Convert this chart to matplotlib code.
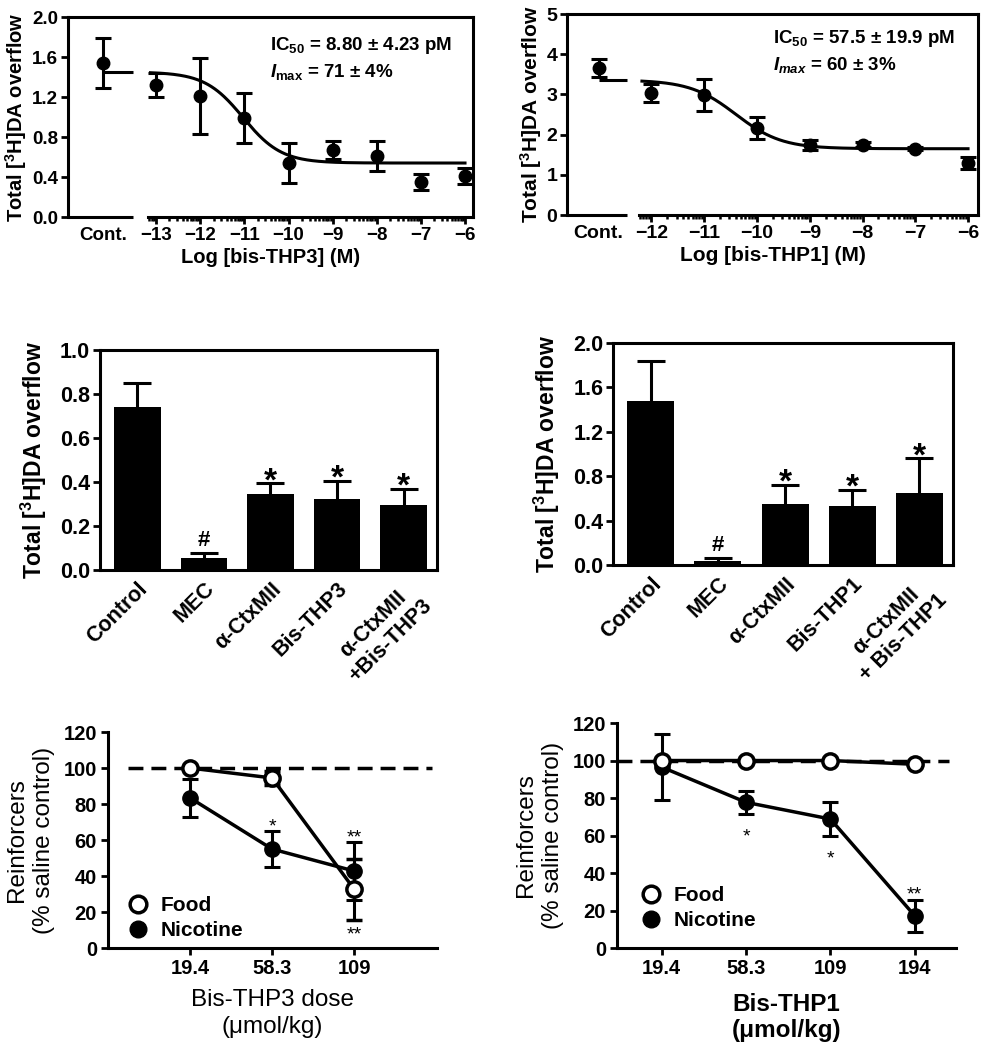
import numpy as np
import matplotlib.pyplot as plt
from matplotlib.lines import Line2D

plt.rcParams['font.family'] = 'Liberation Sans'
plt.rcParams['font.weight'] = 'bold'
plt.rcParams['axes.labelweight'] = 'bold'
plt.rcParams['mathtext.fontset'] = 'custom'
plt.rcParams['mathtext.rm'] = 'Liberation Sans:bold'
plt.rcParams['mathtext.it'] = 'Liberation Sans:italic:bold'
plt.rcParams['mathtext.bf'] = 'Liberation Sans:bold'
plt.rcParams['axes.linewidth'] = 2.2

# ------------------------------- data -------------------------------------

# top left: bis-THP3 concentration-response
thp3_log = [-13, -12, -11, -10, -9, -8, -7, -6]
thp3_mean = [1.32, 1.21, 0.99, 0.54, 0.67, 0.61, 0.35, 0.41]
thp3_sem = [0.12, 0.38, 0.25, 0.20, 0.09, 0.15, 0.08, 0.08]
thp3_cont, thp3_cont_sem = 1.54, 0.25
thp3_fit = {'top': 1.45, 'bottom': 0.54, 'log_ic50': -11.03, 'hill': 1.0}

# top right: bis-THP1 concentration-response
thp1_log = [-12, -11, -10, -9, -8, -7, -6]
thp1_mean = [3.03, 2.98, 2.17, 1.74, 1.75, 1.65, 1.30]
thp1_sem = [0.22, 0.40, 0.28, 0.12, 0.06, 0.04, 0.15]
thp1_cont, thp1_cont_sem = 3.65, 0.22
thp1_fit = {'top': 3.36, 'bottom': 1.65, 'log_ic50': -10.40, 'hill': 1.0}

# middle: bar charts
bar_labels3 = ['Control', 'MEC', 'α-CtxMII', 'Bis-THP3', 'α-CtxMII\n+Bis-THP3']
bar_mean3 = [0.74, 0.053, 0.345, 0.323, 0.294]
bar_err3 = [0.11, 0.023, 0.049, 0.083, 0.074]
bar_labels1 = ['Control', 'MEC', 'α-CtxMII', 'Bis-THP1', 'α-CtxMII\n+ Bis-THP1']
bar_mean1 = [1.48, 0.04, 0.546, 0.53, 0.645]
bar_err1 = [0.36, 0.02, 0.174, 0.145, 0.315]
bar_marks = ['', '#', '*', '*', '*']

# bottom: self-administration
doses3 = ['19.4', '58.3', '109']
food3 = [100, 94.5, 32.7]
food3_sem = [0, 4, 17]
nic3 = [83.4, 55, 42.8]
nic3_sem = [10.5, 10, 16]
nic3_marks = ['', '*', '**']
food3_marks = ['', '', '**']

doses1 = ['19.4', '58.3', '109', '194']
food1 = [100, 100, 100, 98]
food1_sem = [0, 0, 0, 0]
nic1 = [96.5, 77.7, 68.8, 17.2]
nic1_sem = [17.5, 6, 9, 8.5]
nic1_marks = ['', '*', '*', '**']
nic1_side = ['', 'below', 'below', 'above']

fig = plt.figure(figsize=(9.81, 10.5), dpi=100)


def sigmoid(x, p):
    return p['bottom'] + (p['top'] - p['bottom']) / (1 + 10 ** ((x - p['log_ic50']) * p['hill']))


def curve_panel(rect, logs, mean, sem, cont, cont_sem, fit, cont_x, xlim, brk,
                yticks, yfmt, xlabel, txt, tick_fs, lab_fs):
    ax = fig.add_axes(rect)
    xs = np.linspace(brk[1] + 0.05, logs[-1], 300)
    ax.plot(xs, sigmoid(xs, fit), color='k', lw=2.2)
    ax.errorbar(logs, mean, yerr=sem, fmt='o', color='k', ms=9, capsize=6,
                elinewidth=2.2, capthick=2.2, clip_on=False)
    ax.errorbar([cont_x], [cont], yerr=[cont_sem], fmt='o', color='k', ms=9,
                capsize=6, elinewidth=2.2, capthick=2.2)
    ax.hlines(fit['top'], cont_x, brk[0], color='k', lw=2.2)
    ax.set_xlim(*xlim)
    ax.set_ylim(yticks[0], yticks[-1])
    ax.set_yticks(yticks, [yfmt % v for v in yticks])
    ax.set_xticks([cont_x] + logs, ['Cont.'] + ['\u2212%d' % abs(v) for v in logs])
    ax.xaxis.get_major_ticks()[0].tick1line.set_visible(False)
    minor = [d + np.log10(k) for d in range(logs[0] - 1, logs[-1]) for k in range(2, 10)]
    minor = [m for m in minor if m > brk[1]]
    ax.set_xticks(minor, minor=True)
    ax.tick_params(axis='both', which='major', direction='out', length=5, width=2,
                   labelsize=tick_fs, pad=2)
    ax.tick_params(axis='x', which='minor', direction='out', length=3, width=1.8)
    ax.spines['bottom'].set_bounds(brk[1], xlim[1])
    ax.plot([xlim[0], brk[0]], [yticks[0], yticks[0]], color='k', lw=2.2,
            clip_on=False, solid_capstyle='butt')
    ax.set_xlabel(xlabel, fontsize=lab_fs, labelpad=3)
    ax.set_ylabel('Total [$^{3}$H]DA overflow', fontsize=lab_fs, labelpad=2)
    for (tx, ty, s) in txt:
        ax.text(tx, ty, s, transform=ax.transAxes, ha='left', va='center', fontsize=13.5)
    return ax


curve_panel([0.0693, 0.7933, 0.4128, 0.1905], thp3_log, thp3_mean, thp3_sem,
            thp3_cont, thp3_cont_sem, thp3_fit, -14.2, (-15, -5.82), (-13.52, -13.18),
            [0, 0.4, 0.8, 1.2, 1.6, 2.0], '%.1f', 'Log [bis-THP3] (M)',
            [(0.499, 0.86, 'IC$_{50}$ = 8.80 ± 4.23 pM'),
             (0.499, 0.725, '$I_{\\mathrm{max}}$ = 71 ± 4%')], 13.5, 14.5)

curve_panel([0.578, 0.7952, 0.419, 0.1914], thp1_log, thp1_mean, thp1_sem,
            thp1_cont, thp1_cont_sem, thp1_fit, -13.0, (-13.6, -5.81), (-12.47, -12.23),
            [0, 1, 2, 3, 4, 5], '%d', 'Log [bis-THP1] (M)',
            [(0.501, 0.876, 'IC$_{50}$ = 57.5 ± 19.9 pM'),
             (0.501, 0.746, '$I_{max}$ = 60 ± 3%')], 14, 15)


def bar_panel(rect, labels, mean, err, yticks, ylim):
    ax = fig.add_axes(rect)
    pos = np.arange(len(labels))
    ax.bar(pos, mean, width=0.7, color='k')
    _, caps, _ = ax.errorbar(pos, mean, yerr=[[0] * len(err), err], fmt='none', ecolor='k',
                             elinewidth=2.2, capsize=10, capthick=2.2)
    caps[0].set_visible(False)
    for p, m, e, s in zip(pos, mean, err, bar_marks):
        if s == '#':
            ax.annotate(s, (p, m + e), xytext=(0, 5), textcoords='offset points',
                        ha='center', va='baseline', fontsize=16)
        elif s:
            ax.annotate(s, (p, m + e), xytext=(0, -5), textcoords='offset points',
                        ha='center', va='baseline', fontsize=24)
    ax.set_xlim(-0.56, 4.5)
    ax.set_ylim(*ylim)
    ax.set_yticks(yticks, ['%.1f' % v for v in yticks])
    ax.set_xticks(pos, labels, rotation=45, ha='right', va='top',
                  rotation_mode='anchor', multialignment='center', fontsize=15.5)
    ax.tick_params(axis='x', length=0, pad=6)
    ax.tick_params(axis='y', direction='out', length=5, width=2, labelsize=15.5, pad=2)
    ax.set_ylabel('Total [$^{3}$H]DA overflow', fontsize=16.5, labelpad=8)
    return ax


bar_panel([0.1019, 0.4571, 0.3435, 0.2095], bar_labels3, bar_mean3, bar_err3,
          [0, 0.2, 0.4, 0.6, 0.8, 1.0], (0, 1.0))
bar_panel([0.6249, 0.4619, 0.3466, 0.2114], bar_labels1, bar_mean1, bar_err1,
          [0, 0.4, 0.8, 1.2, 1.6, 2.0], (0, 2.0))


def sa_panel(rect, doses, food, food_sem, nic, nic_sem, xlim, dash, xlabel, xbold,
             xpad, xspace, leg_anchor):
    ax = fig.add_axes(rect)
    pos = np.arange(len(doses))
    ax.axhline(100, xmin=dash[0], xmax=dash[1], color='k', lw=2.5, dashes=(4.3, 2.3))
    ax.errorbar(pos, nic, yerr=nic_sem, fmt='-o', color='k', ms=11, lw=2.5,
                capsize=6, elinewidth=2.2, capthick=2.2, zorder=3)
    ax.errorbar(pos, food, yerr=food_sem, fmt='-o', color='k', mfc='white', mec='k',
                mew=2.5, ms=11, lw=2.5, capsize=6, elinewidth=2.2, capthick=2.2, zorder=4)
    ax.set_xlim(*xlim)
    ax.set_ylim(0, 120)
    ax.set_yticks(range(0, 121, 20))
    ax.set_xticks(pos, doses)
    ax.spines['top'].set_visible(False)
    ax.spines['right'].set_visible(False)
    ax.tick_params(axis='both', direction='out', length=5, width=2, labelsize=14.5, pad=3)
    ax.set_ylabel('Reinforcers\n(% saline control)', fontsize=17.5, fontweight='normal',
                  linespacing=1.3, labelpad=6)
    ax.set_xlabel(xlabel, fontsize=17.5, fontweight='bold' if xbold else 'normal',
                  linespacing=xspace, labelpad=xpad)
    handles = [Line2D([], [], marker='o', ls='none', mfc='white', mec='k', mew=2.5,
                      ms=12, label='Food'),
               Line2D([], [], marker='o', ls='none', color='k', ms=12, label='Nicotine')]
    ax.legend(handles=handles, loc='lower left', bbox_to_anchor=leg_anchor, frameon=False,
              fontsize=15, handlelength=1, handletextpad=0.6, labelspacing=0.3,
              borderpad=0, borderaxespad=0)
    return ax


axE = sa_panel([0.1101, 0.0971, 0.3354, 0.2057], doses3, food3, food3_sem, nic3, nic3_sem,
               (-1, 3.01), (0.06, 0.985), 'Bis-THP3 dose\n(μmol/kg)', False, 8, 1.3,
               (0.058, 0.035))
for p, m, e, s in zip(range(3), nic3, nic3_sem, nic3_marks):
    if s:
        axE.annotate(s, (p, m + e), xytext=(0, 0), textcoords='offset points',
                     ha='center', va='baseline', fontsize=14, fontweight='normal')
for p, m, e, s in zip(range(3), food3, food3_sem, food3_marks):
    if s:
        axE.annotate(s, (p, m - e), xytext=(0, -14), textcoords='offset points',
                     ha='center', va='baseline', fontsize=14, fontweight='normal')

axF = sa_panel([0.629, 0.0971, 0.3456, 0.2143], doses1, food1, food1_sem, nic1, nic1_sem,
               (-0.53, 3.49), (0.0, 0.98), 'Bis-THP1\n(μmol/kg)', True, 11, 1.15,
               (0.07, 0.08))
for p, m, e, s, side in zip(range(4), nic1, nic1_sem, nic1_marks, nic1_side):
    if side == 'above':
        axF.annotate(s, (p, m + e), xytext=(0, 0), textcoords='offset points',
                     ha='center', va='baseline', fontsize=14, fontweight='normal')
    elif side == 'below':
        axF.annotate(s, (p, m - e), xytext=(0, -20), textcoords='offset points',
                     ha='center', va='baseline', fontsize=14, fontweight='normal')

fig.savefig('out.png', dpi=100)
